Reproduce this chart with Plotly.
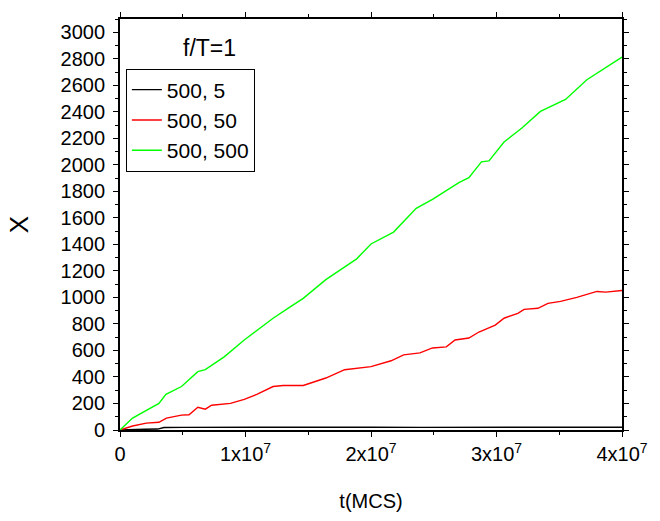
import plotly.graph_objects as go

# Data
t_black = [0, 0.1e7, 0.2e7, 0.3e7, 0.35e7, 0.5e7, 0.8e7, 1.2e7, 1.6e7, 2.0e7, 2.4e7, 2.8e7, 3.2e7, 3.6e7, 4.0e7]
x_black = [0, 5, 6, 7, 19, 20, 21, 20, 22, 21, 20, 21, 22, 21, 21]

t_red = [0, 0.1e7, 0.21e7, 0.31e7, 0.37e7, 0.49e7, 0.55e7, 0.62e7, 0.68e7, 0.73e7, 0.88e7, 0.99e7,
         1.09e7, 1.22e7, 1.3e7, 1.46e7, 1.64e7, 1.79e7, 2.0e7, 2.16e7, 2.26e7, 2.39e7, 2.49e7, 2.6e7,
         2.67e7, 2.78e7, 2.86e7, 2.99e7, 3.06e7, 3.17e7, 3.22e7, 3.33e7, 3.41e7, 3.51e7, 3.64e7, 3.8e7,
         3.87e7, 4.0e7]
x_red = [0, 30, 52, 58, 90, 112, 115, 172, 157, 187, 201, 231,
         269, 328, 336, 336, 392, 455, 478, 522, 567, 582, 619, 627,
         679, 694, 739, 791, 843, 880, 910, 918, 955, 970, 1000, 1045,
         1040, 1052]

t_green = [0, 0.1e7, 0.31e7, 0.366e7, 0.49e7, 0.62e7, 0.68e7, 0.83e7, 0.99e7, 1.22e7, 1.35e7, 1.46e7,
           1.64e7, 1.886e7, 2.0e7, 2.18e7, 2.36e7, 2.49e7, 2.7e7, 2.78e7, 2.88e7, 2.94e7, 3.06e7,
           3.2e7, 3.35e7, 3.55e7, 3.72e7, 3.84e7, 4.0e7]
x_green = [0, 90, 201, 269, 328, 440, 455, 552, 679, 843, 925, 993,
           1134, 1291, 1403, 1493, 1672, 1739, 1866, 1903, 2022, 2030, 2172,
           2276, 2403, 2493, 2642, 2716, 2813]

names = ["500, 5", "500, 50", "500, 500"]
colors = ["#000000", "#ff0000", "#00ff00"]

x_tickvals = [0, 1e7, 2e7, 3e7, 4e7]
x_ticktext = ["0", "1x10<sup>7</sup>", "2x10<sup>7</sup>", "3x10<sup>7</sup>", "4x10<sup>7</sup>"]

fig = go.Figure()
for t, x, n, c in zip([t_black, t_red, t_green], [x_black, x_red, x_green], names, colors):
    fig.add_trace(go.Scatter(x=t, y=x, mode="lines", name=n, line=dict(color=c, width=1.4)))

font = "Arial, Liberation Sans, sans-serif"
axis_common = dict(showline=True, linecolor="black", linewidth=1.8, mirror="ticks",
                   ticks="outside", ticklen=5, tickwidth=1.2, tickcolor="black",
                   showgrid=False, zeroline=False,
                   tickfont=dict(family=font, size=20, color="black"))

L, R, T, B = 120, 634, 16, 431

fig.update_layout(
    width=660, height=521,
    margin=dict(l=L, r=660 - R, t=T, b=521 - B),
    paper_bgcolor="white", plot_bgcolor="white",
    showlegend=True,
    legend=dict(x=(126 - L) / (R - L), y=(B - 66) / (B - T), xanchor="left", yanchor="top",
                bordercolor="black", borderwidth=1, bgcolor="white",
                font=dict(family=font, size=21, color="black"),
                entrywidth=130, entrywidthmode="pixels",
                tracegroupgap=0),
    xaxis=dict(range=[0, 4e7], tickvals=x_tickvals, ticktext=x_ticktext,
               minor=dict(dtick=0.5e7, ticks="outside", ticklen=3, tickcolor="black"),
               title=dict(text="t(MCS)", font=dict(family=font, size=20, color="black"), standoff=30),
               **axis_common),
    yaxis=dict(range=[0, 3100], dtick=200, ticklabelstandoff=4,
               minor=dict(dtick=100, ticks="outside", ticklen=3, tickcolor="black"),
               title=dict(text="X", font=dict(family=font, size=26, color="black"), standoff=24),
               **axis_common),
    annotations=[dict(text="f/T=1", x=(212 - L) / (R - L), y=(B - 45) / (B - T),
                      xref="paper", yref="paper", xanchor="center", yanchor="middle",
                      showarrow=False, font=dict(family=font, size=23, color="black"))],
)

fig.write_html("out.html")
